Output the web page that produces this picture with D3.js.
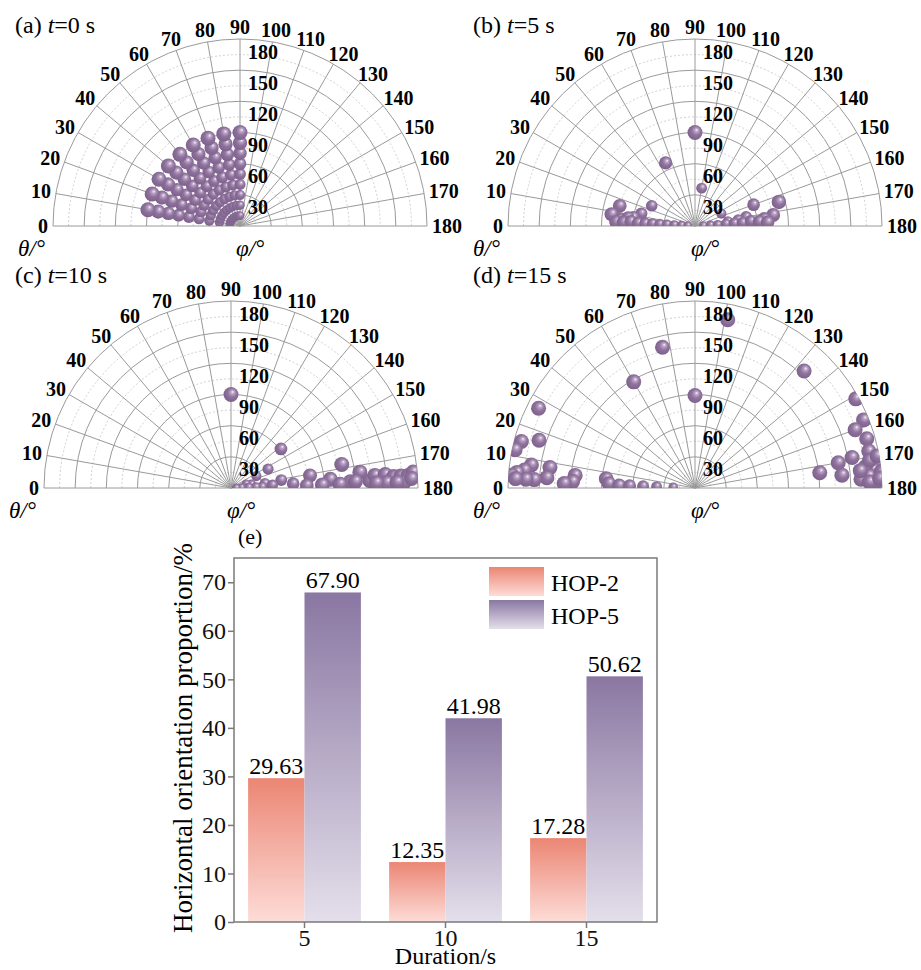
<!DOCTYPE html>
<html>
<head>
<meta charset="utf-8">
<script src="https://cdn.jsdelivr.net/npm/d3@7"></script>
<style>
  body { margin: 0; background: #fff; }
  svg { display: block; }
</style>
</head>
<body>
<div id="chart"></div>
<script>
// ---- polar panels: theta (angular, 0..180) and phi (radial, 0..180) in degrees
const thetaTicks = [0, 10, 20, 30, 40, 50, 60, 70, 80, 90, 100, 110, 120, 130, 140, 150, 160, 170, 180];
const phiTicks = [30, 60, 90, 120, 150, 180];
const phiMinor = [15, 45, 75, 105, 135, 165];

// t = 0 s : initial grid of orientations
const pts0 = [
  [10, 10], [10, 20], [10, 30], [10, 40], [10, 50], [10, 60], [10, 70], [10, 80], [10, 90],
  [20, 10], [20, 20], [20, 30], [20, 40], [20, 50], [20, 60], [20, 70], [20, 80], [20, 90],
  [30, 10], [30, 20], [30, 30], [30, 40], [30, 50], [30, 60], [30, 70], [30, 80], [30, 90],
  [40, 10], [40, 20], [40, 30], [40, 40], [40, 50], [40, 60], [40, 70], [40, 80], [40, 90],
  [50, 10], [50, 20], [50, 30], [50, 40], [50, 50], [50, 60], [50, 70], [50, 80], [50, 90],
  [60, 10], [60, 20], [60, 30], [60, 40], [60, 50], [60, 60], [60, 70], [60, 80], [60, 90],
  [70, 10], [70, 20], [70, 30], [70, 40], [70, 50], [70, 60], [70, 70], [70, 80], [70, 90],
  [80, 10], [80, 20], [80, 30], [80, 40], [80, 50], [80, 60], [80, 70], [80, 80], [80, 90],
  [90, 10], [90, 20], [90, 30], [90, 40], [90, 50], [90, 60], [90, 70], [90, 80], [90, 90]
];

// t = 5 s
const pts5 = [
  [90, 90], [65, 67], [100, 37], [160, 60], [164, 84], [15, 75], [8, 81], [25, 46], [13, 53],
  [8, 60], [5, 72], [7, 65], [155, 28], [172, 76], [174, 67], [170, 50], [172, 42], [172, 32],
  [3, 76], [3, 69], [4, 62], [3, 55], [3, 48], [3, 41], [3, 34], [3, 27], [3, 20], [3, 13], [3, 7],
  [177, 8], [177, 15], [177, 22], [176, 30], [176, 38], [176, 46], [175, 54], [176, 62], [177, 70]
];

// t = 10 s
const pts10 = [
  [90, 90], [142, 61], [153, 40], [168, 109], [171, 77], [175, 96], [177, 115], [173, 125],
  [177, 134], [175, 139], [175, 149], [176, 157], [176, 164], [176, 171], [175, 176], [178, 150],
  [178, 167], [177, 174], [155, 27], [171, 49], [176, 60], [178, 73], [170, 20], [165, 15],
  [172, 33], [176, 40], [178, 30], [178, 24], [178, 17], [178, 10], [178, 5], [178, 88],
  [178, 105], [177, 120], [178, 140], [178, 160]
];

// t = 15 s
const pts15 = [
  [101, 165], [77, 139], [60, 118], [90, 89], [133, 154], [27, 169], [151, 177], [158, 175],
  [160, 164], [164, 172], [168, 171], [169, 154], [170, 140], [173, 121], [175, 142],
  [172, 176], [174, 172], [176, 178], [173, 165], [176, 168], [177, 160], [178, 175], [175, 180],
  [178, 168], [171, 170], [177, 178], [174, 160], [170, 178],
  [17, 157], [15, 173], [12, 177], [8, 159], [8, 141], [6, 165], [5, 172], [4, 177], [4, 143],
  [3, 155], [3, 163], [3, 173], [6, 116], [3, 118], [2, 126], [6, 86], [3, 83], [2, 73],
  [2, 63], [2, 50], [2, 37], [2, 21]
];

const panelTags = ["(a) ", "(b) ", "(c) ", "(d) "];
const panelTimes = ["=0 s", "=5 s", "=10 s", "=15 s"];
const panelPoints = [pts0, pts5, pts10, pts15];

// ---- bar panel
const durations = ["5", "10", "15"];
const hop2 = [29.63, 12.35, 17.28];
const hop5 = [67.90, 41.98, 50.62];
const seriesNames = ["HOP-2", "HOP-5"];
const yTicks = [0, 10, 20, 30, 40, 50, 60, 70];

const width = 921, height = 970;
const serif = "'Liberation Serif', 'Times New Roman', serif";
const R = 187;
const centers = [[240, 226], [695, 226], [231, 488], [695, 488]];

const svg = d3.select("#chart").append("svg")
  .attr("width", width)
  .attr("height", height)
  .attr("viewBox", [0, 0, width, height]);

const defs = svg.append("defs");

// shaded sphere
const sph = defs.append("radialGradient")
  .attr("id", "sphere")
  .attr("cx", "55%").attr("cy", "45%").attr("r", "60%")
  .attr("fx", "62%").attr("fy", "32%");
sph.append("stop").attr("offset", "0%").attr("stop-color", "#f6f1f8");
sph.append("stop").attr("offset", "20%").attr("stop-color", "#b9a4c4");
sph.append("stop").attr("offset", "50%").attr("stop-color", "#8f729d");
sph.append("stop").attr("offset", "100%").attr("stop-color", "#7a5f89");

// upper half-disc clip
defs.append("clipPath").attr("id", "halfdisc")
  .append("path")
  .attr("d", `M${-R},0 A${R},${R} 0 0 1 ${R},0 Z`);

const barColors = [["#eb8674", "#fddcd7"], ["#8a77a2", "#e4dfeb"]];
barColors.forEach((c, i) => {
  const g = defs.append("linearGradient")
    .attr("id", "bar" + i)
    .attr("x1", 0).attr("y1", 0).attr("x2", 0).attr("y2", 1);
  g.append("stop").attr("offset", "0%").attr("stop-color", c[0]);
  g.append("stop").attr("offset", "100%").attr("stop-color", c[1]);
});

const rScale = d3.scaleLinear().domain([0, 180]).range([0, R]);
const aScale = d3.scaleLinear().domain([0, 180]).range([Math.PI, 0]);
const dotSize = d3.scaleLinear().domain([0, 90]).range([4, 7.5]).clamp(true);

const px = (t, p) => Math.cos(aScale(t)) * rScale(p);
const py = (t, p) => -Math.sin(aScale(t)) * rScale(p);
const halfArc = r => `M${-r},0 A${r},${r} 0 0 1 ${r},0`;

function drawPolar(i) {
  const [cx, cy] = centers[i];
  const g = svg.append("g").attr("transform", `translate(${cx},${cy})`);

  g.selectAll("path.minor")
    .data(phiMinor)
    .join("path")
    .attr("class", "minor")
    .attr("d", d => halfArc(rScale(d)))
    .attr("fill", "none")
    .attr("stroke", "#c4c4c4")
    .attr("stroke-width", 0.8)
    .attr("stroke-dasharray", "2,2");

  g.selectAll("path.major")
    .data(phiTicks)
    .join("path")
    .attr("class", "major")
    .attr("d", d => halfArc(rScale(d)))
    .attr("fill", "none")
    .attr("stroke", "#9a9a9a")
    .attr("stroke-width", 1);

  g.selectAll("line.spoke")
    .data(thetaTicks)
    .join("line")
    .attr("class", "spoke")
    .attr("x1", 0).attr("y1", 0)
    .attr("x2", d => px(d, 180))
    .attr("y2", d => py(d, 180))
    .attr("stroke", "#9a9a9a")
    .attr("stroke-width", 1);

  // points
  g.append("g")
    .attr("clip-path", "url(#halfdisc)")
    .selectAll("circle")
    .data(panelPoints[i])
    .join("circle")
    .attr("cx", d => px(d[0], d[1]))
    .attr("cy", d => py(d[0], d[1]))
    .attr("r", d => dotSize(d[1]))
    .attr("fill", "url(#sphere)");

  // radial labels
  g.selectAll("text.rlab")
    .data(phiTicks)
    .join("text")
    .attr("class", "rlab")
    .attr("x", 8)
    .attr("y", d => -rScale(d) + 19.5)
    .attr("font-family", serif)
    .attr("font-weight", "bold")
    .attr("font-size", 20)
    .text(d => d);

  // angular labels
  g.selectAll("text.alab")
    .data(thetaTicks)
    .join("text")
    .attr("class", "alab")
    .attr("font-family", serif)
    .attr("font-weight", "bold")
    .attr("font-size", 20)
    .attr("text-anchor", "middle")
    .attr("dy", "0.35em")
    .text(d => d)
    .each(function (d) {
      const w = this.getComputedTextLength();
      const a = aScale(d);
      d3.select(this)
        .attr("x", Math.cos(a) * (R + 5 + w / 2))
        .attr("y", -Math.sin(a) * (R + 5 + 7));
    });

  // panel title
  const title = g.append("text")
    .attr("x", (i % 2 === 0 ? 15 : 473) - cx)
    .attr("y", (i < 2 ? 33 : 283) - cy)
    .attr("font-family", serif)
    .attr("font-size", 24);
  title.append("tspan").text(panelTags[i]);
  title.append("tspan").attr("font-style", "italic").text("t");
  title.append("tspan").text(panelTimes[i]);

  g.append("text")
    .attr("x", -222)
    .attr("y", 30)
    .attr("font-family", serif)
    .attr("font-style", "italic")
    .attr("font-size", 23)
    .text("θ/°");

  g.append("text")
    .attr("x", -4)
    .attr("y", 30)
    .attr("font-family", serif)
    .attr("font-style", "italic")
    .attr("font-size", 23)
    .text("φ/°");
}

[0, 1, 2, 3].forEach(drawPolar);

// ---- bar chart (e)
const box = { left: 234, right: 657, top: 558, bottom: 922 };

const x = d3.scaleBand()
  .domain(durations)
  .range([box.left, box.right])
  .paddingInner(0.2)
  .paddingOuter(0.1);

const y = d3.scaleLinear()
  .domain([0, 75])
  .range([box.bottom, box.top]);

const bw = x.bandwidth() / 2;
const barData = durations.flatMap((d, i) => [
  { dur: d, s: 0, v: hop2[i] },
  { dur: d, s: 1, v: hop5[i] }
]);

const bars = svg.append("g");
bars.selectAll("rect")
  .data(barData)
  .join("rect")
  .attr("x", d => x(d.dur) + d.s * bw)
  .attr("y", d => y(d.v))
  .attr("width", bw)
  .attr("height", d => y(0) - y(d.v))
  .attr("fill", d => `url(#bar${d.s})`);

bars.selectAll("text")
  .data(barData)
  .join("text")
  .attr("x", d => x(d.dur) + d.s * bw + bw / 2)
  .attr("y", d => y(d.v) - 4)
  .attr("text-anchor", "middle")
  .attr("font-family", serif)
  .attr("font-size", 24)
  .text(d => d.v.toFixed(2));

const yAxis = svg.append("g")
  .attr("transform", `translate(${box.left},0)`)
  .call(d3.axisLeft(y).tickValues(yTicks).tickSize(6).tickPadding(2));
const xAxis = svg.append("g")
  .attr("transform", `translate(0,${box.bottom})`)
  .call(d3.axisBottom(x).tickSize(6).tickPadding(1));

[yAxis, xAxis].forEach(a => {
  a.select(".domain").remove();
  a.selectAll(".tick line").attr("stroke", "#7a7a7a").attr("stroke-width", 1.5);
  a.selectAll(".tick text")
    .attr("font-family", serif)
    .attr("font-size", 24)
    .attr("fill", "#111");
});

svg.append("rect")
  .attr("x", box.left)
  .attr("y", box.top)
  .attr("width", box.right - box.left)
  .attr("height", box.bottom - box.top)
  .attr("fill", "none")
  .attr("stroke", "#7a7a7a")
  .attr("stroke-width", 1.5);

// legend
const legend = svg.append("g").attr("transform", "translate(489,567)");
legend.selectAll("rect")
  .data(seriesNames)
  .join("rect")
  .attr("x", 0)
  .attr("y", (d, i) => i * 33)
  .attr("width", 55)
  .attr("height", 29)
  .attr("fill", (d, i) => `url(#bar${i})`);
legend.selectAll("text")
  .data(seriesNames)
  .join("text")
  .attr("x", 62)
  .attr("y", (d, i) => 24 + i * 33)
  .attr("font-family", serif)
  .attr("font-size", 24)
  .text(d => d);

svg.append("text")
  .attr("x", 238)
  .attr("y", 544)
  .attr("font-family", serif)
  .attr("font-size", 22)
  .text("(e)");

svg.append("text")
  .attr("transform", `translate(192,${(box.top + box.bottom) / 2 - 2}) rotate(-90)`)
  .attr("text-anchor", "middle")
  .attr("font-family", serif)
  .attr("font-size", 27)
  .text("Horizontal orientation proportion/%");

svg.append("text")
  .attr("x", (box.left + box.right) / 2)
  .attr("y", 964)
  .attr("text-anchor", "middle")
  .attr("font-family", serif)
  .attr("font-size", 24)
  .text("Duration/s");
</script>
</body>
</html>
